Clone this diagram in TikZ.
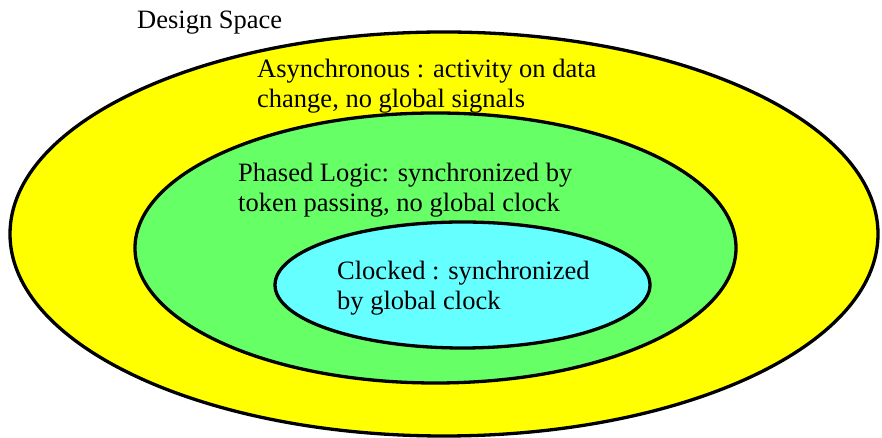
\documentclass[tikz,border=0pt]{standalone}
\usepackage{fontspec}
\setmainfont{Liberation Serif}
\definecolor{outery}{HTML}{FFFF00}
\definecolor{midg}{HTML}{66FF66}
\definecolor{innerc}{HTML}{66FFFF}
\begin{document}
\begin{tikzpicture}[x=1pt,y=1pt,
  region/.style={draw=black,line width=3.3pt},
  label/.style={anchor=base west,align=left,inner sep=0pt,font=\fontsize{26.5}{30}\selectfont}]
\useasboundingbox (0,0) rectangle (882,438);
\fill[white] (0,0) rectangle (882,438);
\draw[region,fill=outery] (444,204) ellipse [x radius=434,y radius=202];
\draw[region,fill=midg] (435.5,190) ellipse [x radius=300.5,y radius=135];
\draw[region,fill=innerc] (462.5,153) ellipse [x radius=187.5,y radius=63];
\node[label] (title) at (137,409) {Design Space};
\node[label] (async) at (257,330) {Asynchronous : activity on data\\change, no global signals};
\node[label] (phased) at (238,226) {Phased Logic: synchronized by\\token passing, no global clock};
\node[label] (clocked) at (337,128) {Clocked : synchronized\\by global clock};
\end{tikzpicture}
\end{document}
